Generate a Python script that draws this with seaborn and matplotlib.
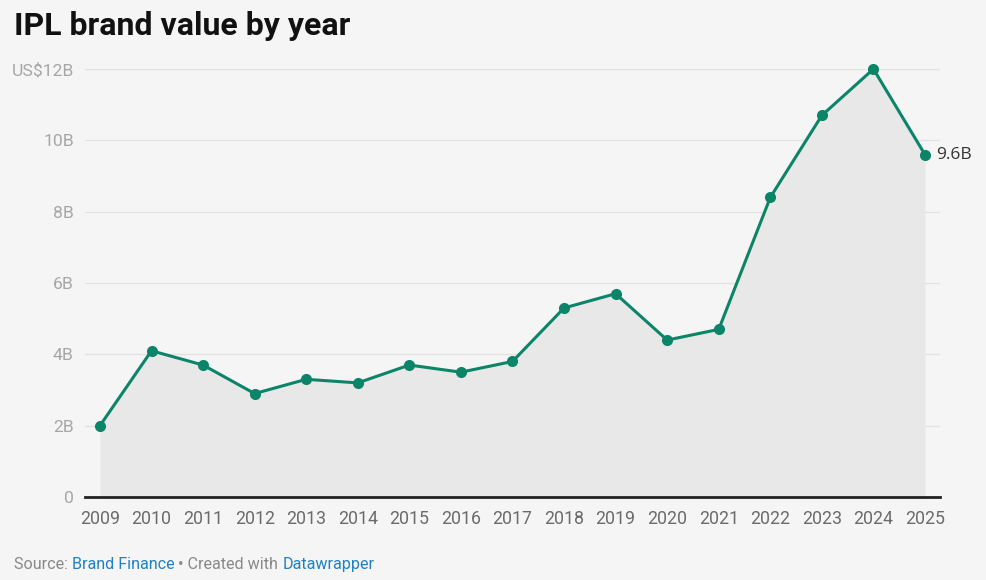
import pandas as pd
import matplotlib.pyplot as plt
import seaborn as sns

years = [2009, 2010, 2011, 2012, 2013, 2014, 2015, 2016, 2017,
         2018, 2019, 2020, 2021, 2022, 2023, 2024, 2025]
brand_value = [2.0, 4.1, 3.7, 2.9, 3.3, 3.2, 3.7, 3.5, 3.8,
               5.3, 5.7, 4.4, 4.7, 8.4, 10.7, 12.0, 9.6]
y_ticks = [0, 2, 4, 6, 8, 10, 12]
y_labels = ["0", "2B", "4B", "6B", "8B", "10B", "US$12B"]

df = pd.DataFrame({"year": years, "value": brand_value})

sns.set_style("white")
plt.rcParams["font.family"] = ["Roboto", "DejaVu Sans"]

bg = "#f5f5f5"
green = "#0b8468"

fig = plt.figure(figsize=(9.86, 5.8), dpi=100, facecolor=bg)
ax = fig.add_axes([0.0862, 0.1431, 0.8671, 0.7379], facecolor=bg)

ax.fill_between(df["year"], df["value"], 0, color="#e8e8e8", lw=0, zorder=1)
sns.lineplot(data=df, x="year", y="value", ax=ax, color=green, lw=2.2,
             marker="o", markersize=8, markeredgewidth=0, zorder=3, clip_on=False)

ax.set_xlim(2008.71, 2025.29)
ax.set_ylim(0, 12)
ax.set_yticks(y_ticks)
ax.set_yticklabels(y_labels)
ax.set_xticks(years)
ax.set_xticklabels([str(y) for y in years])
ax.grid(axis="y", color="#e2e2e2", lw=1, zorder=0)
ax.set_axisbelow(True)
for s in ["top", "right", "left"]:
    ax.spines[s].set_visible(False)
ax.spines["bottom"].set_color("#222222")
ax.spines["bottom"].set_linewidth(2)
ax.spines["bottom"].set_zorder(4)
ax.tick_params(axis="y", length=0, pad=8, labelsize=12.6, labelcolor="#a6a6a6")
ax.tick_params(axis="x", length=0, pad=9, labelsize=12.8, labelcolor="#6b6b6b")
ax.set_xlabel("")
ax.set_ylabel("")

ax.annotate(f"{brand_value[-1]:g}B", (years[-1], brand_value[-1]),
            xytext=(8, 0), textcoords="offset points", va="center", ha="left",
            fontsize=12.5, color="#333333", family=["Open Sans", "DejaVu Sans"])

fig.text(0.014, 0.955, "IPL brand value by year", fontsize=23, fontweight="bold",
         color="#111111", va="center", ha="left")

y_foot = 0.026
fs_foot = 11.6
t = fig.text(0.014, y_foot, "Source: ", fontsize=fs_foot, color="#888888", va="center")
parts = [("Brand Finance", "#1d81c4"), (" • Created with ", "#888888"), ("Datawrapper", "#1d81c4")]
fig.canvas.draw()
for txt, col in parts:
    bb = t.get_window_extent()
    x0 = bb.x1 / fig.bbox.width
    t = fig.text(x0, y_foot, txt, fontsize=fs_foot, color=col, va="center")
    fig.canvas.draw()

fig.savefig("out.png", dpi=100, facecolor=bg)
